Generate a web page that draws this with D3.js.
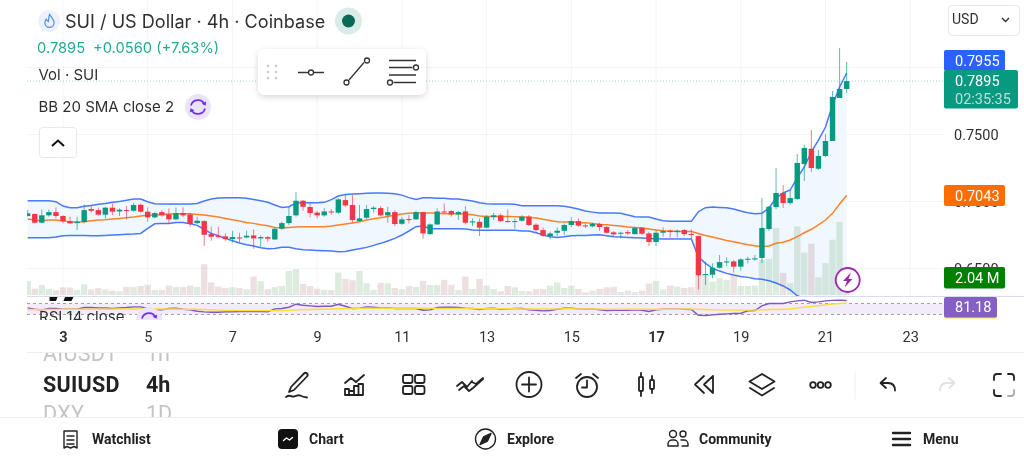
<!DOCTYPE html>
<html>
<head>
<meta charset="utf-8">
<script src="https://cdn.jsdelivr.net/npm/d3@7"></script>
<style>
html, body { margin: 0; padding: 0; background: #fff; overflow: hidden; }
svg { display: block; font-family: Roboto, sans-serif; filter: blur(0.35px); }
.head { font-family: Inter, sans-serif; }
</style>
</head>
<body>
<div id="chart"></div>
<script>
// --- Data, one entry per 4h candle. Candle 0 is the start of day 3 ---
const firstIndex = -5;
const opens = [
  .6888,.6903,.6838,.6893,.6917,.6888,.6850,.6835,.6843,.6940,
  .6932,.6898,.6950,.6922,.6932,.6927,.6972,.6920,.6878,.6917,
  .6900,.6863,.6910,.6900,.6835,.6850,.6753,.6738,.6736,.6716,
  .6728,.6728,.6743,.6721,.6731,.6713,.6793,.6835,.6893,.7002,
  .6955,.6913,.6893,.6922,.6913,.7007,.6970,.6850,.6875,.6940,
  .6947,.6893,.6917,.6830,.6865,.6863,.6917,.6753,.6825,.6922,
  .6925,.6900,.6922,.6840,.6845,.6801,.6880,.6893,.6850,.6845,
  .6853,.6883,.6823,.6783,.6738,.6763,.6778,.6821,.6850,.6818,
  .6811,.6830,.6806,.6766,.6756,.6768,.6753,.6801,.6758,.6694,
  .6763,.6778,.6768,.6783,.6753,.6738,.6447,.6450,.6502,.6544,
  .6549,.6510,.6564,.6564,.6575,.6791,.6955,.7060,.6985,.7015,
  .7276,.7390,.7241,.7336,.7448,.7769,.7836
];
const closes = [
  .6908,.6838,.6893,.6917,.6888,.6850,.6833,.6845,.6932,.6927,
  .6898,.6950,.6920,.6935,.6927,.6970,.6920,.6878,.6910,.6893,
  .6863,.6910,.6893,.6828,.6853,.6748,.6733,.6733,.6716,.6731,
  .6723,.6741,.6721,.6731,.6719,.6793,.6835,.6888,.7002,.6957,
  .6910,.6893,.6922,.6917,.7012,.6967,.6858,.6870,.6940,.6950,
  .6893,.6917,.6828,.6863,.6863,.6917,.6758,.6825,.6922,.6917,
  .6900,.6917,.6838,.6848,.6801,.6883,.6893,.6850,.6845,.6850,
  .6883,.6821,.6783,.6741,.6758,.6778,.6821,.6850,.6816,.6811,
  .6830,.6806,.6763,.6751,.6763,.6758,.6798,.6756,.6694,.6763,
  .6776,.6768,.6778,.6753,.6746,.6445,.6455,.6502,.6544,.6549,
  .6510,.6564,.6569,.6572,.6799,.6957,.7060,.6985,.7022,.7284,
  .7396,.7246,.7336,.7448,.7776,.7836,.7895
];
const highs = [
  .6932,.6908,.6937,.6937,.6952,.6895,.6883,.6883,.6975,.6962,
  .6952,.6957,.6982,.6945,.6962,.6987,.6982,.6952,.6920,.6932,
  .6945,.6952,.6952,.6913,.6883,.6858,.6808,.6808,.6758,.6778,
  .6763,.6778,.6788,.6743,.6738,.6803,.6845,.6957,.7067,.7007,
  .6987,.6927,.6945,.6940,.7020,.7044,.7044,.6970,.6970,.6962,
  .6962,.6957,.6932,.6883,.6895,.6927,.6920,.6833,.6945,.6982,
  .6932,.6927,.6962,.6870,.6870,.6895,.6913,.6908,.6937,.6870,
  .6895,.6895,.6833,.6803,.6771,.6803,.6833,.6878,.6870,.6833,
  .6838,.6838,.6813,.6776,.6771,.6783,.6808,.6803,.6771,.6788,
  .6803,.6788,.6788,.6791,.6788,.6743,.6547,.6535,.6597,.6579,
  .6559,.6572,.6584,.6597,.7022,.6963,.7246,.7119,.7082,.7351,
  .7418,.7530,.7381,.7500,.7821,.8142,.8037
];
const lows = [
  .6883,.6833,.6833,.6883,.6870,.6833,.6833,.6783,.6833,.6913,
  .6890,.6870,.6895,.6888,.6863,.6920,.6913,.6845,.6870,.6883,
  .6828,.6858,.6878,.6808,.6828,.6664,.6704,.6726,.6704,.6689,
  .6689,.6721,.6644,.6654,.6696,.6709,.6783,.6821,.6883,.6927,
  .6878,.6870,.6883,.6898,.6903,.6957,.6838,.6845,.6865,.6913,
  .6883,.6838,.6813,.6821,.6833,.6858,.6719,.6746,.6821,.6908,
  .6883,.6858,.6825,.6813,.6738,.6796,.6858,.6845,.6838,.6793,
  .6845,.6813,.6771,.6733,.6713,.6738,.6746,.6803,.6808,.6798,
  .6803,.6778,.6758,.6733,.6721,.6746,.6751,.6746,.6664,.6664,
  .6733,.6726,.6728,.6738,.6713,.6340,.6373,.6423,.6495,.6515,
  .6465,.6480,.6535,.6554,.6537,.6776,.6940,.6948,.6970,.7007,
  .7149,.7216,.7231,.7328,.7448,.7769,.7806
];
const bbUpper = [
  .7002,.7002,.7002,.7002,.6995,.6962,.6950,.6950,.6960,.6967,
  .6975,.6982,.6990,.6997,.7005,.7015,.7015,.6995,.6980,.6977,
  .6977,.6977,.6977,.6977,.6982,.7000,.7015,.7022,.7025,.7025,
  .7025,.7020,.7012,.7002,.6990,.6970,.6952,.6957,.6985,.6987,
  .6987,.6987,.6990,.7010,.7037,.7049,.7052,.7054,.7057,.7059,
  .7059,.7057,.7054,.7044,.7025,.7012,.7025,.7025,.7020,.7020,
  .7015,.7015,.7007,.7000,.6987,.6980,.6977,.6977,.6977,.6975,
  .6965,.6965,.6965,.6965,.6965,.6965,.6960,.6952,.6940,.6925,
  .6917,.6910,.6910,.6910,.6908,.6895,.6883,.6880,.6880,.6865,
  .6853,.6848,.6848,.6848,.6848,.6920,.6950,.6955,.6952,.6950,
  .6940,.6925,.6913,.6905,.6908,.6948,.7022,.7060,.7082,.7172,
  .7254,.7366,.7455,.7552,.7716,.7851,.7955
];
const bbBasis = [
  .6865,.6858,.6853,.6858,.6858,.6850,.6845,.6843,.6845,.6853,
  .6858,.6860,.6865,.6870,.6875,.6880,.6888,.6893,.6895,.6900,
  .6903,.6905,.6905,.6905,.6900,.6895,.6888,.6880,.6870,.6860,
  .6850,.6840,.6833,.6823,.6816,.6803,.6801,.6803,.6806,.6808,
  .6808,.6808,.6808,.6813,.6821,.6828,.6835,.6845,.6858,.6868,
  .6875,.6885,.6895,.6903,.6908,.6910,.6910,.6910,.6908,.6905,
  .6905,.6905,.6903,.6898,.6888,.6885,.6885,.6885,.6885,.6883,
  .6880,.6878,.6873,.6863,.6855,.6845,.6843,.6845,.6840,.6838,
  .6833,.6825,.6823,.6818,.6813,.6806,.6803,.6798,.6791,.6783,
  .6778,.6776,.6773,.6773,.6773,.6758,.6743,.6731,.6719,.6706,
  .6696,.6684,.6674,.6666,.6659,.6664,.6684,.6692,.6709,.6734,
  .6763,.6789,.6821,.6858,.6908,.6978,.7043
];
const bbLower = [
  .6726,.6726,.6726,.6726,.6731,.6741,.6743,.6743,.6743,.6741,
  .6741,.6743,.6746,.6748,.6751,.6753,.6758,.6796,.6830,.6833,
  .6833,.6840,.6840,.6830,.6818,.6788,.6758,.6741,.6721,.6704,
  .6686,.6674,.6664,.6651,.6644,.6646,.6654,.6654,.6644,.6636,
  .6634,.6631,.6629,.6627,.6622,.6624,.6634,.6644,.6654,.6669,
  .6684,.6701,.6721,.6746,.6776,.6808,.6813,.6793,.6793,.6793,
  .6793,.6793,.6791,.6783,.6781,.6781,.6781,.6781,.6781,.6781,
  .6776,.6776,.6763,.6746,.6733,.6728,.6733,.6741,.6743,.6743,
  .6746,.6748,.6741,.6733,.6731,.6728,.6726,.6723,.6721,.6719,
  .6716,.6716,.6716,.6716,.6716,.6584,.6535,.6497,.6477,.6460,
  .6447,.6437,.6430,.6420,.6416,.6405,.6388,.6366,.6336,.6293,
  .6273,.6212,.6187,.6164,.6100,.6104,.6134
];
const volumes = [
  1.68,.76,1.20,.72,.56,.92,.88,.60,1.28,.68,
  .84,.68,.52,.44,.96,.96,1.08,1.20,.60,.60,
  1.12,.96,.96,1.12,.96,3.68,1.52,1.00,.84,.92,
  .84,.68,2.20,1.64,.68,.96,1.08,2.88,3.08,1.32,
  1.08,.76,.60,.60,2.68,1.92,1.76,2.88,1.40,.60,
  1.44,1.40,.84,.68,1.08,.96,1.68,1.20,1.20,1.80,
  1.20,.60,2.20,.72,1.92,1.12,.72,.44,1.08,.92,
  .48,.44,.72,.72,1.12,1.52,.84,1.12,.72,.32,
  .52,.72,.92,.96,.36,.52,.36,.52,1.36,1.68,
  .68,1.12,1.00,.84,.92,2.36,2.40,1.60,2.00,1.80,
  2.40,1.08,1.08,1.12,4.20,4.32,8.00,2.64,1.40,8.20,
  5.08,6.12,2.12,3.80,6.60,8.72,2.04
];
const rsi = [
  54.1,49.2,46.8,51.7,51.7,49.2,49.2,49.2,55.3,55.3,
  54.1,54.1,51.7,54.1,55.3,57.7,57.7,51.7,46.8,46.8,
  51.7,52.9,49.2,46.8,42,39.5,38.3,38.3,39.5,39.5,
  40.8,40.8,40.8,40.8,39.5,50.4,51.7,56.5,67.4,63.8,
  61.4,58.9,60.1,60.1,67.4,60.1,51.7,52.9,57.7,56.5,
  54.1,54.1,51.7,51.7,51.7,51.7,45.6,46.8,55.3,56.5,
  56.5,55.3,52.9,51.7,48,51.7,52.9,49.2,50.4,51.7,
  51.7,46.8,45.6,43.2,44.4,49.2,52.9,52.9,50.4,49.2,
  50.4,46.8,44.4,45.6,45.6,45.6,46.8,45.6,40.8,46.8,
  49.2,49.2,49.2,49.2,48,27.4,26.2,28.6,31.1,32.3,
  33.5,34.7,43.2,44.4,61.4,69.8,69.8,69.8,75.9,79.5,
  82,73.5,75.9,79.5,81.5,81.9,81.18
];
const rsiMa = [
  48,48,48,48,48,49,49,49,49,49,
  49,49,50,50,50,50,51,51,51,50,
  50,50,49,49,49,48,47,46,45,45,
  44,44,44,44,44,44,44,45,47,48,
  48,49,49,50,51,52,52,53,53,53,
  53,53,53,53,53,53,53,53,52,52,
  52,52,52,52,51,51,51,51,51,51,
  50,50,50,50,50,50,51,51,50,50,
  50,50,49,49,49,49,49,49,49,49,
  49,49,49,50,50,49,48,47,47,46,
  46,46,46,46,47,48,48,49,50,53,
  57,59,62,65,68,70,72
];
const dayTicks = [3, 5, 7, 9, 11, 13, 15, 17, 19, 21, 23];
const boldDays = [3, 17];
const priceTicks = [0.75, 0.70, 0.65];
const priceGrid = [0.80, 0.75, 0.70, 0.65];
const lastPrice = 0.7895;
const rsiBands = [70, 30];
const candlesPerDay = 6;

// --- Layout ---
const width = 1024, height = 461;
const paneLeft = 27, paneRight = 944;
const upColor = '#089981', downColor = '#f23645';

const svg = d3.select('#chart').append('svg').attr('width', width).attr('height', height);
const defs = svg.append('defs');
defs.append('clipPath').attr('id', 'main-clip').append('rect')
  .attr('x', paneLeft).attr('y', 0).attr('width', paneRight - paneLeft).attr('height', 296);
defs.append('clipPath').attr('id', 'rsi-clip').append('rect')
  .attr('x', paneLeft).attr('y', 297).attr('width', paneRight - paneLeft).attr('height', 23);
defs.append('clipPath').attr('id', 'list-clip').append('rect')
  .attr('x', 0).attr('y', 353).attr('width', 260).attr('height', 64);
defs.append('clipPath').attr('id', 'legend-clip').append('rect')
  .attr('x', 0).attr('y', 297).attr('width', 260).attr('height', 23);
const shadow = defs.append('filter').attr('id', 'soft').attr('x', '-10%').attr('y', '-20%').attr('width', '120%').attr('height', '150%');
shadow.append('feDropShadow').attr('dx', 0).attr('dy', 2).attr('stdDeviation', 3).attr('flood-color', '#000').attr('flood-opacity', 0.16);

// --- Scales ---
const x = d3.scaleLinear().domain([0, 120]).range([63, 63 + 7.06 * 120]);
const y = d3.scaleLinear().domain([0.65, 0.75]).range([268, 134]);
const yVol = d3.scaleLinear().domain([0, 8.72]).range([295, 222]);
const yRsi = d3.scaleLinear().domain([30, 70]).range([314.5, 303.5]);

const candles = opens.map((o, i) => ({
  index: firstIndex + i, open: o, close: closes[i], high: highs[i], low: lows[i],
  upper: bbUpper[i], basis: bbBasis[i], lower: bbLower[i],
  volume: volumes[i], rsi: rsi[i], rsiMa: rsiMa[i]
}));

// --- Grid ---
const grid = svg.append('g').attr('stroke', '#f3f4f6').attr('stroke-width', 1);
grid.selectAll('.vgrid').data(dayTicks).enter().append('line')
  .attr('x1', d => x((d - 3) * candlesPerDay)).attr('x2', d => x((d - 3) * candlesPerDay))
  .attr('y1', 0).attr('y2', 320);
grid.selectAll('.hgrid').data(priceGrid).enter().append('line')
  .attr('x1', paneLeft).attr('x2', paneRight)
  .attr('y1', d => Math.round(y(d)) + 0.5).attr('y2', d => Math.round(y(d)) + 0.5);

// --- Main pane ---
const main = svg.append('g').attr('clip-path', 'url(#main-clip)');

main.append('path').datum(candles)
  .attr('fill', '#f1f7fe')
  .attr('d', d3.area().x(d => x(d.index)).y0(d => y(d.lower)).y1(d => y(d.upper)));

main.selectAll('.vol').data(candles).enter().append('rect')
  .attr('x', d => x(d.index) - 3.2)
  .attr('width', 6.4)
  .attr('y', d => yVol(d.volume))
  .attr('height', d => 295 - yVol(d.volume))
  .attr('fill', d => d.close >= d.open ? '#31883d' : '#883d3d')
  .attr('opacity', 0.16);

const bbLine = key => d3.line().x(d => x(d.index)).y(d => y(d[key]));
[['upper', '#2962ff'], ['lower', '#2962ff'], ['basis', '#ff6d00']].forEach(([key, color]) => {
  main.append('path').datum(candles)
    .attr('fill', 'none').attr('stroke', color).attr('stroke-width', 1.5).attr('opacity', 0.85)
    .attr('d', bbLine(key));
});

// last price line
main.append('line')
  .attr('x1', paneLeft).attr('x2', paneRight)
  .attr('y1', y(lastPrice)).attr('y2', y(lastPrice))
  .attr('stroke', '#9ed6cc').attr('stroke-width', 1).attr('stroke-dasharray', '1 2');

const candle = main.selectAll('.candle').data(candles).enter().append('g');
candle.append('line')
  .attr('x1', d => x(d.index)).attr('x2', d => x(d.index))
  .attr('y1', d => y(d.high)).attr('y2', d => y(d.low))
  .attr('stroke', d => d.close >= d.open ? upColor : downColor)
  .attr('stroke-width', 1).attr('opacity', 0.65);
candle.append('rect')
  .attr('x', d => x(d.index) - 2.7)
  .attr('width', 5.4)
  .attr('y', d => y(Math.max(d.open, d.close)))
  .attr('height', d => Math.max(1, Math.abs(y(d.open) - y(d.close))))
  .attr('fill', d => d.close >= d.open ? upColor : downColor);

// --- Pane divider ---
svg.append('line').attr('x1', paneLeft).attr('x2', width).attr('y1', 296.5).attr('y2', 296.5)
  .attr('stroke', '#d9dcec').attr('stroke-width', 1);

// --- RSI pane ---
const rsiPane = svg.append('g').attr('clip-path', 'url(#rsi-clip)');
rsiPane.append('rect')
  .attr('x', paneLeft).attr('width', paneRight - paneLeft)
  .attr('y', yRsi(70)).attr('height', yRsi(30) - yRsi(70))
  .attr('fill', '#f1ecf8');
rsiPane.selectAll('.band').data(rsiBands).enter().append('line')
  .attr('x1', paneLeft).attr('x2', paneRight)
  .attr('y1', d => yRsi(d)).attr('y2', d => yRsi(d))
  .attr('stroke', '#a0a0a6').attr('stroke-width', 1).attr('stroke-dasharray', '3 3');
rsiPane.append('path').datum(candles)
  .attr('fill', 'none').attr('stroke', '#7e57c2').attr('stroke-width', 1.4)
  .attr('d', d3.line().x(d => x(d.index)).y(d => yRsi(d.rsi)));
rsiPane.append('path').datum(candles)
  .attr('fill', 'none').attr('stroke', '#fbdc3c').attr('stroke-width', 1.4)
  .attr('d', d3.line().x(d => x(d.index)).y(d => yRsi(d.rsiMa)));

// --- Time axis ---
const xAxis = d3.axisBottom(x)
  .tickValues(dayTicks.map(d => (d - 3) * candlesPerDay))
  .tickSize(0)
  .tickFormat(v => v / candlesPerDay + 3);
const xAxisG = svg.append('g').attr('transform', 'translate(0,331.5)').call(xAxis);
xAxisG.select('.domain').remove();
xAxisG.selectAll('text')
  .attr('y', 0).attr('dy', '0.72em')
  .attr('font-family', 'Roboto, sans-serif').attr('font-size', 14.5).attr('fill', '#2f3034')
  .attr('font-weight', (v) => boldDays.includes(v / candlesPerDay + 3) ? 700 : 400);

// --- Price axis ---
const yAxis = d3.axisRight(y).tickValues(priceTicks).tickSize(0).tickFormat(d3.format('.4f'));
const yAxisG = svg.append('g').attr('transform', 'translate(954,1)').call(yAxis);
yAxisG.select('.domain').remove();
yAxisG.selectAll('text')
  .attr('x', 0)
  .attr('font-family', 'Roboto, sans-serif').attr('font-size', 14.5).attr('fill', '#2f3034');

// --- Value labels on the price axis ---
function valueTag(x0, y0, w, h, color, label) {
  svg.append('rect').attr('x', x0).attr('y', y0).attr('width', w).attr('height', h).attr('rx', 2).attr('fill', color);
  svg.append('text').attr('x', 955).attr('y', y0 + h / 2 + 5)
    .attr('font-size', 14.5).attr('fill', '#fff').text(label);
}
valueTag(944, 50, 61, 21, '#2962ff', d3.format('.4f')(bbUpper[bbUpper.length - 1]));
svg.append('rect').attr('x', 944).attr('y', 70).attr('width', 74).attr('height', 38.5).attr('rx', 2).attr('fill', upColor);
svg.append('text').attr('x', 955).attr('y', 86).attr('font-size', 14.5).attr('fill', '#fff').text(d3.format('.4f')(lastPrice));
svg.append('text').attr('x', 955).attr('y', 104).attr('font-size', 14.5).attr('fill', '#fff').attr('opacity', 0.7).text('02:35:35');
valueTag(944, 185, 61, 21, '#ff6d00', d3.format('.4f')(bbBasis[bbBasis.length - 1]));
valueTag(944, 267, 61, 21.5, '#008000', d3.format('.2f')(volumes[volumes.length - 1]) + ' M');
svg.append('rect').attr('x', 944).attr('y', 315).attr('width', 53).attr('height', 3.5).attr('rx', 1.5).attr('fill', '#fbdc3c');
valueTag(944, 297, 53, 20.5, '#8560c4', d3.format('.2f')(rsi[rsi.length - 1]));

// --- Legend ---
const head = svg.append('g').attr('class', 'head');
head.append('circle').attr('cx', 49).attr('cy', 21).attr('r', 11).attr('fill', '#edf1fb');
head.append('path').attr('d', 'M49.5 14.5c2.6 3.2 4.6 5.6 4.6 8.3a4.6 4.6 0 0 1-9.2 0c0-1.3.5-2.5 1.3-3.6 .6 1 1.4 1.7 2.2 2.2 .2-2.3 .4-4.6 1.1-6.9z')
  .attr('fill', 'none').attr('stroke', '#4d8fe8').attr('stroke-width', 1.2);
head.append('text').attr('x', 65).attr('y', 27.5).attr('font-size', 18.1).attr('fill', '#2f3034')
  .text('SUI / US Dollar · 4h · Coinbase');
head.append('circle').attr('cx', 348.5).attr('cy', 21).attr('r', 13.5).attr('fill', '#d9ece8');
head.append('circle').attr('cx', 348.5).attr('cy', 21).attr('r', 6.5).attr('fill', '#0b6a57');
head.append('text').attr('x', 37).attr('y', 53).attr('font-size', 14.7).attr('fill', '#22ab94').text('0.7895');
head.append('text').attr('x', 93).attr('y', 53).attr('font-size', 14.7).attr('fill', '#22ab94').text('+0.0560 (+7.63%)');
head.append('text').attr('x', 38.5).attr('y', 80).attr('font-size', 15).attr('fill', '#2f3034').text('Vol · SUI');
head.append('text').attr('x', 38.5).attr('y', 112).attr('font-size', 15).attr('fill', '#2f3034').text('BB 20 SMA close 2');

function refreshIcon(parent, cx, cy) {
  const g = parent.append('g').attr('transform', `translate(${cx},${cy})`);
  g.append('circle').attr('r', 13).attr('fill', '#ebe4f9');
  g.append('path').attr('d', 'M-7 -1.5A7.2 7.2 0 0 1 6.6 -2.6M7 1.5A7.2 7.2 0 0 1 -6.6 2.6')
    .attr('fill', 'none').attr('stroke', '#6f2ff2').attr('stroke-width', 1.7);
  g.append('path').attr('d', 'M3.6 -3.2L7.6 -1.2L8.2 -5.6ZM-3.6 3.2L-7.6 1.2L-8.2 5.6Z').attr('fill', '#6f2ff2');
}
refreshIcon(svg, 198, 107);

svg.append('rect').attr('x', 39.5).attr('y', 127.5).attr('width', 37).attr('height', 30).attr('rx', 3)
  .attr('fill', '#fff').attr('stroke', '#e8e8e8');
svg.append('path').attr('d', 'M52 146l6-5.5 6 5.5').attr('fill', 'none').attr('stroke', '#111').attr('stroke-width', 2);

// RSI legend, cut by the pane edge
const rsiLegend = svg.append('g').attr('clip-path', 'url(#legend-clip)');
rsiLegend.append('text').attr('x', 39).attr('y', 322).attr('class', 'head').attr('font-size', 15).attr('fill', '#2f3034').text('RSI 14 close');
refreshIcon(rsiLegend, 149, 320);
rsiLegend.append('path').attr('d', 'M49.5 297h8l-1.5 4h-6.5zM65 297h8.5l-2 4H63.5z').attr('fill', '#111');

// --- Floating drawing toolbar ---
const floatBar = svg.append('g').attr('fill', 'none').attr('stroke', '#333').attr('stroke-width', 1.3);
floatBar.append('rect').attr('x', 258).attr('y', 49).attr('width', 168).attr('height', 46).attr('rx', 7)
  .attr('fill', '#fff').attr('stroke', 'none').attr('filter', 'url(#soft)');
[268, 276].forEach(dx => [66, 72, 78].forEach(dy => {
  floatBar.append('circle').attr('cx', dx).attr('cy', dy).attr('r', 1.2).attr('fill', '#c9c9c9').attr('stroke', 'none');
}));
floatBar.append('path').attr('d', 'M298 72.5h10.5m5 0H324M349 80L364 62.5M389 60.5h27M389 67.5h23.5M389 75h27M393.5 82.5H416');
[[311, 72.5], [346.5, 82.5], [367, 60.5], [416, 67.5], [390, 82.5]].forEach(([cx, cy]) => {
  floatBar.append('circle').attr('cx', cx).attr('cy', cy).attr('r', 2.5);
});

// --- Currency dropdown ---
svg.append('rect').attr('x', 948.5).attr('y', 5.5).attr('width', 71).attr('height', 30).attr('rx', 4)
  .attr('fill', '#fff').attr('stroke', '#e8e8e8');
svg.append('text').attr('x', 952).attr('y', 24).attr('font-size', 14).attr('fill', '#2f3034').text('USD');
svg.append('path').attr('d', 'M1002 18l3.5 3.5 3.5-3.5').attr('fill', 'none').attr('stroke', '#2f3034').attr('stroke-width', 1.4);

// --- Lightning badge ---
svg.append('circle').attr('cx', 847.7).attr('cy', 280).attr('r', 12).attr('fill', '#fff').attr('stroke', '#9c27b0').attr('stroke-width', 1.8);
svg.append('path').attr('d', 'M851 272.5l-8 8.5h4l-2.5 6.5 8-8.5h-4z').attr('fill', '#9c27b0');

// --- Bottom toolbar ---
svg.append('line').attr('x1', paneLeft).attr('x2', width).attr('y1', 352.5).attr('y2', 352.5).attr('stroke', '#eeeeee');
svg.append('line').attr('x1', 0).attr('x2', width).attr('y1', 417.5).attr('y2', 417.5).attr('stroke', '#eeeeee');

const list = svg.append('g').attr('clip-path', 'url(#list-clip)');
[['AIUSDT', '1h', 361, '#c4c4c4', 400], ['SUIUSD', '4h', 391.5, '#222', 700], ['DXY', '1D', 420.5, '#c4c4c4', 400]].forEach(row => {
  list.append('text').attr('x', 43).attr('y', row[2]).attr('font-size', 21.5).attr('letter-spacing', 0.3).attr('font-weight', row[4]).attr('fill', row[3]).text(row[0]);
  list.append('text').attr('x', 146).attr('y', row[2]).attr('font-size', 21.5).attr('font-weight', row[4]).attr('fill', row[3]).text(row[1]);
});

const tools = svg.append('g').attr('fill', 'none').attr('stroke', '#222').attr('stroke-width', 1.8)
  .attr('stroke-linecap', 'round').attr('stroke-linejoin', 'round');
// pencil
tools.append('path').attr('d', 'M291 387l-2 5 5-2 13-13.5a2 2 0 0 0-3-3zM286 397c4-3 5 0 8-.5s4-2 6-1 3 1.5 7 2');
// indicators
tools.append('path').attr('d', 'M345 383l6-5 5 4 8-7M345 395v-6h4v6zM349 395v-4h5v4zM354 395v-9h4.5v9zM358.5 395v-11h4.5v11z');
// layouts
[[403, 375], [415, 375], [403, 386], [415, 386]].forEach(([rx, ry]) => {
  tools.append('rect').attr('x', rx).attr('y', ry).attr('width', 9.5).attr('height', 8).attr('rx', 2);
});
// patterns
tools.append('path').attr('d', 'M457 386l5-4 5 5 5-6M459 390l5-4 5 5M472 382l4 2 7-6M469 391l4-3 10-9');
// plus
tools.append('circle').attr('cx', 529).attr('cy', 384.5).attr('r', 12.5);
tools.append('path').attr('d', 'M529 377.5v14M522 384.5h14');
// alarm
tools.append('circle').attr('cx', 587).attr('cy', 387).attr('r', 10);
tools.append('path').attr('d', 'M587 380.5v7h-5M576 378l5-4M598 378l-5-4');
// candles
tools.append('rect').attr('x', 639).attr('y', 377).attr('width', 4).attr('height', 14).attr('rx', 1);
tools.append('rect').attr('x', 650).attr('y', 380).attr('width', 4).attr('height', 9).attr('rx', 1);
tools.append('path').attr('d', 'M641 373v4M641 391v5M652 376v4M652 389v4');
// rewind
tools.append('path').attr('d', 'M713 376l-9 8.5 9 8.5zM704 376l-9 8.5 9 8.5');
// layers
tools.append('path').attr('d', 'M762 374l12.5 7.5-12.5 7.5-12.5-7.5zM750 388l12 7.5 12-7.5');
// more
[813, 820.5, 828].forEach(cx => tools.append('circle').attr('cx', cx).attr('cy', 385).attr('r', 2.8));
tools.append('line').attr('x1', 855).attr('x2', 855).attr('y1', 372).attr('y2', 399).attr('stroke', '#eeeeee').attr('stroke-width', 1);
// undo, redo
tools.append('path').attr('d', 'M886 378l-5.5 5 5.5 5M881 383h7c4 0 7 2.5 7 7.5');
tools.append('path').attr('d', 'M949 378l5.5 5-5.5 5M954 383h-7c-4 0-7 2.5-7 7.5').attr('stroke', '#e2e2e2');
// fullscreen
tools.append('path').attr('d', 'M994 380v-3a3 3 0 0 1 3-3h4M1008 374h3a3 3 0 0 1 3 3v3M994 390v3a3 3 0 0 0 3 3h4').attr('stroke', '#222');
tools.append('path').attr('d', 'M1008 396h3a3 3 0 0 0 3-3v-3').attr('stroke', '#aaa');

// --- Bottom navigation ---
const navLabels = [['Watchlist', 92], ['Chart', 309], ['Explore', 507], ['Community', 699], ['Menu', 923]];
svg.selectAll('.nav').data(navLabels).enter().append('text')
  .attr('x', d => d[1])
  .attr('y', 444).attr('font-size', 14).attr('font-weight', 700).attr('fill', '#222').text(d => d[0]);

const nav = svg.append('g').attr('fill', 'none').attr('stroke', '#222').attr('stroke-width', 1.4)
  .attr('stroke-linecap', 'round').attr('stroke-linejoin', 'round');
nav.append('path').attr('d', 'M64 431h13v17l-3-1.5-3.5 1.5-3.5-1.5-3 1.5zM67 436h7M67 440h7M67 444h7');
nav.append('rect').attr('x', 278).attr('y', 429).attr('width', 20).attr('height', 20).attr('rx', 4).attr('fill', '#111').attr('stroke', 'none');
nav.append('path').attr('d', 'M283.5 440.5l3-2.5 3 2 3-2.5').attr('stroke', '#fff');
nav.append('circle').attr('cx', 485.5).attr('cy', 439).attr('r', 10);
nav.append('path').attr('d', 'M491 433.5l-3.5 7.5-7.5 3.5 3.5-7.5z').attr('fill', '#222');
nav.append('circle').attr('cx', 673).attr('cy', 434).attr('r', 3.5);
nav.append('circle').attr('cx', 683).attr('cy', 434).attr('r', 3);
nav.append('path').attr('d', 'M668 446v-2a4 4 0 0 1 4-4h2a4 4 0 0 1 4 4v2zM681 440h3a4 4 0 0 1 4 4v2h-6');
nav.append('path').attr('d', 'M893 433h17M893 439h17M893 445h17').attr('stroke-width', 2.4);
</script>
</body>
</html>
